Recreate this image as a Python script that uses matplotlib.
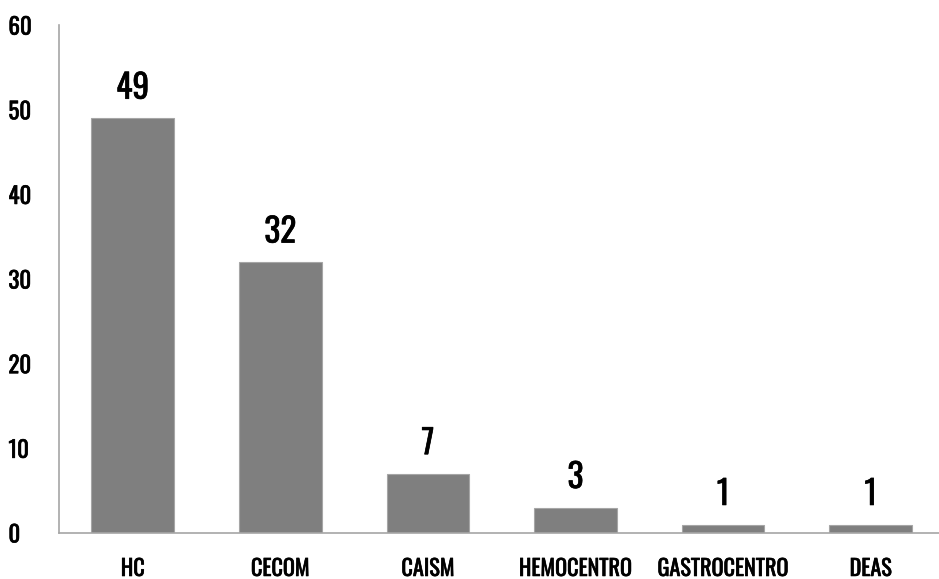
import matplotlib
matplotlib.use('Agg')
import matplotlib.pyplot as plt
import matplotlib.patheffects as pe

# Data
categories = ['HC', 'CECOM', 'CAISM', 'HEMOCENTRO', 'GASTROCENTRO', 'DEAS']
values = [49, 32, 7, 3, 1, 1]
yticks = [0, 10, 20, 30, 40, 50, 60]

plt.rcParams['font.family'] = ['Oswald', 'DejaVu Sans']

# thicken the regular Oswald a little to get closer to the reference weight
bold = [pe.withStroke(linewidth=0.45, foreground='black')]

fig = plt.figure(figsize=(9.39, 5.79), dpi=100)
ax = fig.add_axes([0.0628, 0.0795, 0.943, 0.877])

x = list(range(len(categories)))
ax.bar(x, values, width=0.56, color='#7f7f7f', edgecolor='#a6a6a6', linewidth=0.8)

# value labels above bars
for xi, v in zip(x, values):
    ax.text(xi, v + 1.6, str(v), ha='center', va='bottom', fontsize=24, path_effects=bold)

ax.set_xlim(-0.5, 5.5)
ax.set_ylim(0, 60)
ax.set_yticks(yticks)
ax.set_xticks(x)
ax.set_xticklabels(categories, fontsize=16)
ax.tick_params(axis='y', labelsize=16.5, length=0, pad=36.4)
ax.tick_params(axis='x', length=0, pad=18)
for lbl in ax.get_yticklabels():
    lbl.set_horizontalalignment('left')
    lbl.set_path_effects(bold)
for lbl in ax.get_xticklabels():
    lbl.set_path_effects(bold)

for s in ['top', 'right']:
    ax.spines[s].set_visible(False)
for s in ['left', 'bottom']:
    ax.spines[s].set_color('#a6a6a6')
    ax.spines[s].set_linewidth(1.2)

fig.savefig('out.png', dpi=100)
